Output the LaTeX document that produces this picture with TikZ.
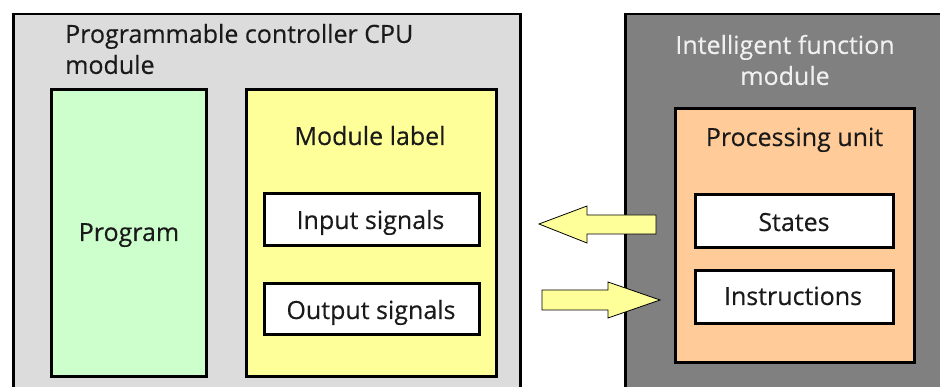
\documentclass[tikz,border=0pt]{standalone}
\usepackage{fontspec}
\setmainfont{Open Sans}[FakeBold=0.3]
\definecolor{cpugray}{HTML}{DCDCDC}
\definecolor{proggreen}{HTML}{CCFFCC}
\definecolor{labyellow}{HTML}{FFFF99}
\definecolor{ifmgray}{HTML}{808080}
\definecolor{procorange}{HTML}{FFCC99}
\definecolor{txt}{HTML}{1A1A1A}
\tikzset{
  box/.style={draw=black, line width=3pt, anchor=north west, inner sep=0pt},
  outerbox/.style={draw=black, line width=2.5pt, anchor=north west, inner sep=0pt},
  whitebox/.style={box, fill=white},
  lbl/.style={font=\fontsize{25}{31}\selectfont, text=txt, inner sep=0pt},
  blockarrow/.style={draw=black, line width=0.8pt, fill=labyellow, line join=miter},
}
\begin{document}
\begin{tikzpicture}[x=1pt,y=-1pt]
\useasboundingbox (0,0) rectangle (940,387);
\clip (0,0) rectangle (940,387);
% left outer module
\node[outerbox, fill=cpugray, minimum width=507pt, minimum height=400pt] (cpu) at (12,13) {};
\node[lbl, anchor=west, align=left] (cputitle) at (65,49) {Programmable controller CPU\\module};
% program
\node[box, fill=proggreen, minimum width=155pt, minimum height=287pt] (prog) at (50,88) {};
\node[lbl, anchor=base] (progtxt) at (129,241) {Program};
% module label
\node[box, fill=labyellow, minimum width=250pt, minimum height=287pt] (modlab) at (245,88) {};
\node[lbl, anchor=base] (modlabtxt) at (370,145) {Module label};
\node[whitebox, minimum width=215pt, minimum height=52pt] (insig) at (263,192) {};
\node[lbl, anchor=base] (insigtxt) at (370.5,229) {Input signals};
\node[whitebox, minimum width=215pt, minimum height=51pt] (outsig) at (263,282) {};
\node[lbl, anchor=base] (outsigtxt) at (371,319) {Output signals};
% right outer module
\node[outerbox, fill=ifmgray, minimum width=400pt, minimum height=400pt] (ifm) at (624,13) {};
\node[lbl, text=white!94!black, align=center] (ifmtitle) at (785,60) {Intelligent function\\module};
\node[box, fill=procorange, minimum width=239pt, minimum height=254pt] (proc) at (674,107) {};
\node[lbl, anchor=base] (proctxt) at (794.5,146) {Processing unit};
\node[whitebox, minimum width=198pt, minimum height=53pt] (states) at (694,193) {};
\node[lbl, anchor=base] (statestxt) at (794,231) {States};
\node[whitebox, minimum width=198pt, minimum height=53pt] (instr) at (694,269) {};
\node[lbl, anchor=base] (instrtxt) at (793,305) {Instructions};
% arrows
\draw[blockarrow] (656,215) -- (587,215) -- (587,206) -- (539,224) -- (587,243) -- (587,234) -- (656,234) -- cycle;
\draw[blockarrow] (542,290) -- (608,290) -- (608,282) -- (660,300) -- (608,318) -- (608,310) -- (542,310) -- cycle;
\end{tikzpicture}
\end{document}
